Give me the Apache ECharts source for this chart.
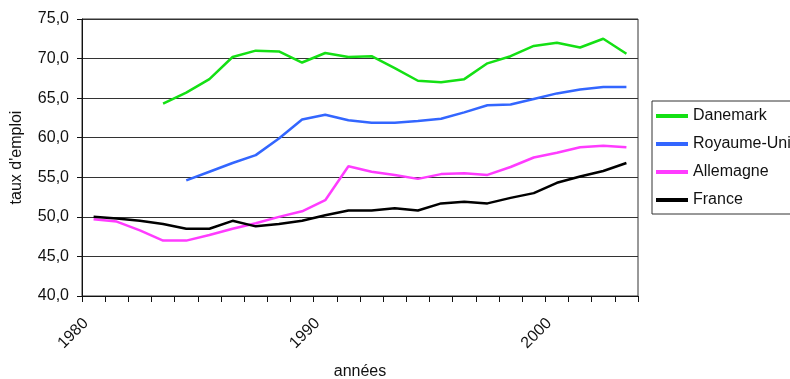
<!DOCTYPE html>
<html>
<head>
<meta charset="utf-8">
<script src="https://cdn.jsdelivr.net/npm/echarts@6/dist/echarts.min.js"></script>
<style>
  html, body { margin: 0; padding: 0; background: #fff; }
  #chart { width: 790px; height: 379px; }
</style>
</head>
<body>
<div id="chart"></div>
<script>
// Taux d'emploi par pays, 1980-2003
const years = ['1980','1981','1982','1983','1984','1985','1986','1987','1988','1989',
               '1990','1991','1992','1993','1994','1995','1996','1997','1998','1999',
               '2000','2001','2002','2003'];

const danemark = [null, null, null, 64.3, 65.7, 67.4, 70.2, 71.0, 70.9, 69.5,
                  70.7, 70.2, 70.3, 68.8, 67.2, 67.0, 67.4, 69.4, 70.3, 71.6,
                  72.0, 71.4, 72.5, 70.6];
const royaumeUni = [null, null, null, null, 54.6, 55.7, 56.8, 57.8, 59.9, 62.3,
                    62.9, 62.2, 61.9, 61.9, 62.1, 62.4, 63.2, 64.1, 64.2, 64.9,
                    65.6, 66.1, 66.4, 66.4];
const allemagne = [49.7, 49.4, 48.3, 47.0, 47.0, 47.7, 48.5, 49.2, 50.0, 50.7,
                   52.1, 56.4, 55.7, 55.3, 54.8, 55.4, 55.5, 55.3, 56.3, 57.5,
                   58.1, 58.8, 59.0, 58.8];
const france = [50.0, 49.8, 49.5, 49.1, 48.5, 48.5, 49.5, 48.8, 49.1, 49.5,
                50.2, 50.8, 50.8, 51.1, 50.8, 51.7, 51.9, 51.7, 52.4, 53.0,
                54.3, 55.1, 55.8, 56.8];

const seriesNames = ['Danemark', 'Royaume-Uni', 'Allemagne', 'France'];
const seriesData = [danemark, royaumeUni, allemagne, france];
const seriesColors = ['#14e014', '#3366ff', '#ff3cff', '#000000'];

const yMin = 40, yMax = 75, yStep = 5;
const yearLabelStep = 10;

const font = 'Liberation Sans, Arial, sans-serif';
const chart = echarts.init(document.getElementById('chart'));

chart.setOption({
  animation: false,
  textStyle: { fontFamily: font },
  grid: {
    left: 82, top: 19, right: 152, bottom: 83,
    outerBoundsMode: 'none',
    containLabel: false,
    show: true, borderColor: '#333', borderWidth: 1
  },
  legend: {
    orient: 'vertical',
    left: 652, top: 101,
    padding: [7, 40, 6, 4],
    itemWidth: 32, itemHeight: 4, itemGap: 12,
    icon: 'rect',
    borderColor: '#333', borderWidth: 1,
    textStyle: { fontSize: 16, color: '#111', fontFamily: font },
    data: seriesNames
  },
  xAxis: {
    type: 'category',
    data: years,
    boundaryGap: true,
    name: 'années',
    nameLocation: 'middle',
    nameGap: 68,
    nameTextStyle: { fontSize: 16, color: '#111' },
    axisLine: { show: true, lineStyle: { color: '#111', width: 1 } },
    axisTick: { show: true, interval: 0, length: 6, lineStyle: { color: '#111' } },
    axisLabel: {
      interval: function (i) { return i % yearLabelStep === 0; },
      rotate: 45, margin: 17, padding: [0, 11, 0, 0],
      fontSize: 16, color: '#111'
    },
    splitLine: { show: false }
  },
  yAxis: {
    type: 'value',
    min: yMin, max: yMax, interval: yStep,
    name: "taux d'emploi",
    nameLocation: 'middle',
    nameGap: 57,
    nameTextStyle: { fontSize: 16, color: '#111' },
    axisLine: { show: true, lineStyle: { color: '#111', width: 1 } },
    axisTick: { show: true, length: 5, lineStyle: { color: '#111' } },
    axisLabel: {
      margin: 13, fontSize: 16, color: '#111',
      formatter: function (v) { return v.toFixed(1).replace('.', ','); }
    },
    splitLine: { lineStyle: { color: '#333', width: 1 } }
  },
  series: seriesNames.map(function (name, k) {
    return {
      name: name,
      type: 'line',
      data: seriesData[k],
      symbol: 'none',
      connectNulls: false,
      color: seriesColors[k],
      lineStyle: { width: 2.5, color: seriesColors[k] }
    };
  })
});
</script>
</body>
</html>
